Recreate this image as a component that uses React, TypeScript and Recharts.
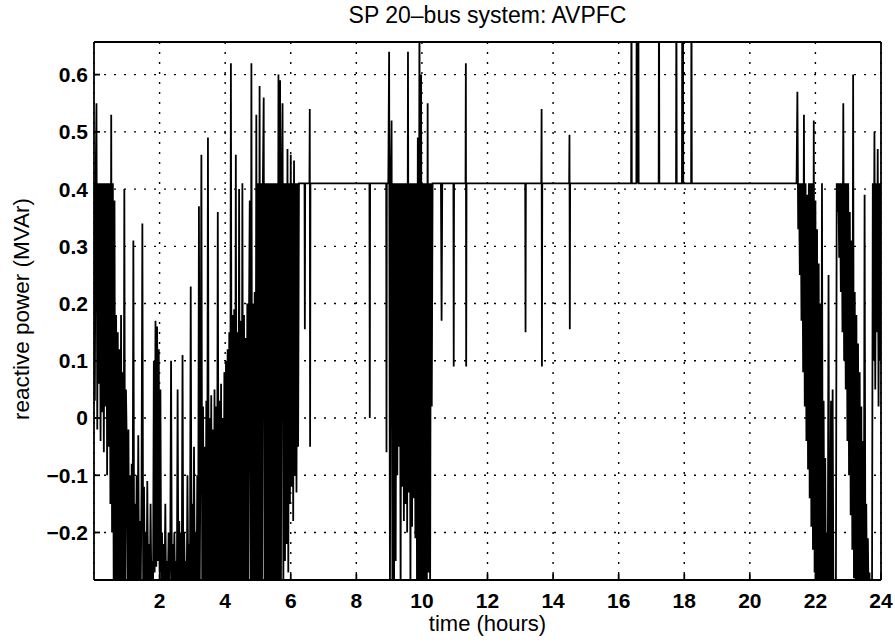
import React from 'react';
import { LineChart, Line, XAxis, YAxis, CartesianGrid, Label } from 'recharts';

const FONT = '"Liberation Sans", Arial, Helvetica, sans-serif';

const titleText = 'SP 20\u2013bus system: AVPFC';
const xLabelText = 'time (hours)';
const yLabelText = 'reactive power (MVAr)';

const xTicks = [2, 4, 6, 8, 10, 12, 14, 16, 18, 20, 22, 24];
const yTicks = [-0.2, -0.1, 0, 0.1, 0.2, 0.3, 0.4, 0.5, 0.6];
const xDomain = [0, 24];
const yDomain = [-0.283, 0.657];

// sampling interval of the dense (oscillating) periods, hours
const sampleStep = 0.025;

// 0.000 h - 6.225 h
const morningStart = 0;
const morningQ = [
  0.41, 0.03, 0.41, 0.55, -0.02, 0.41, 0.06, 0.41, -0.04, 0.41,
  0.01, 0.41, -0.06, 0.41, 0.02, 0.41, -0.1, 0.41, -0.05, 0.41,
  -0.15, 0.53, -0.2, 0.41, -0.3, 0.38, -0.32, 0.18, -0.3, 0.15,
  -0.32, 0.12, -0.3, 0.18, -0.32, 0.08, -0.3, 0.4, -0.32, 0.05,
  -0.05, -0.3, -0.02, -0.32, -0.1, -0.3, -0.08, -0.32, 0.31, -0.3,
  -0.15, -0.32, -0.1, -0.3, -0.03, -0.32, -0.18, -0.3, -0.12, 0.34,
  -0.32, -0.12, -0.3, -0.2, -0.32, -0.11, -0.3, -0.22, -0.32, -0.15,
  -0.3, -0.25, -0.32, 0.1, -0.27, 0.17, -0.26, 0.16, -0.25, 0.12,
  -0.27, 0.05, -0.3, -0.2, -0.32, -0.22, -0.3, -0.15, -0.32, -0.25,
  -0.3, -0.2, -0.32, -0.24, 0.1, -0.3, -0.22, -0.32, -0.2, -0.3,
  -0.25, -0.32, 0.05, -0.3, -0.18, -0.32, -0.2, -0.3, 0.11, -0.32,
  -0.2, -0.3, -0.25, -0.32, -0.1, -0.3, -0.22, -0.32, 0.23, -0.3,
  -0.15, -0.32, -0.05, -0.3, -0.2, -0.32, -0.1, -0.3, 0.37, -0.3,
  0.0, 0.46, -0.3, 0.02, -0.32, -0.05, -0.3, 0.03, -0.3, 0.49,
  -0.3, 0.0, -0.32, 0.04, -0.3, -0.02, -0.32, 0.05, -0.3, 0.02,
  -0.32, 0.36, -0.3, 0.03, -0.32, 0.06, -0.3, 0.0, -0.32, 0.08,
  -0.3, 0.1, -0.32, 0.12, -0.3, 0.15, -0.32, 0.62, -0.3, 0.18,
  -0.32, 0.19, -0.3, 0.46, -0.32, 0.15, -0.3, 0.4, -0.32, 0.17,
  -0.3, 0.41, -0.32, 0.18, -0.3, 0.14, -0.32, 0.2, -0.3, 0.16,
  0.38, -0.32, 0.62, -0.3, 0.2, -0.32, 0.22, -0.3, 0.53, -0.32,
  0.41, -0.3, 0.58, -0.32, 0.41, -0.3, 0.41, 0.56, -0.32, 0.41,
  -0.3, 0.41, -0.32, 0.41, -0.3, 0.41, -0.32, 0.41, -0.3, 0.41,
  -0.32, 0.41, -0.3, 0.41, -0.32, 0.6, -0.3, 0.59, -0.32, 0.41,
  0.55, -0.3, 0.41, -0.25, 0.41, -0.22, 0.47, -0.27, 0.41, -0.15,
  0.46, -0.12, 0.41, -0.18, 0.45, -0.1, 0.41, -0.13, 0.41, -0.05,
];

// 9.000 h - 10.325 h
const forenoonStart = 9.0;
const forenoonQ = [
  0.64, -0.32, 0.41, 0.52, -0.3, 0.41, -0.32, 0.41, -0.25, 0.41,
  -0.1, 0.41, -0.05, 0.41, -0.32, 0.41, -0.12, 0.41, -0.18, 0.41,
  -0.15, 0.41, -0.2, 0.64, -0.13, 0.41, -0.32, 0.41, -0.19, 0.41,
  -0.14, 0.41, -0.21, 0.41, -0.3, 0.49, -0.32, 0.75, -0.3, 0.6,
  -0.32, 0.41, -0.3, 0.41, -0.32, 0.41, -0.3, 0.55, -0.27, 0.41,
  -0.3, 0.41, 0.02, 0.41,
];

// 21.450 h - 24.000 h
const eveningStart = 21.45;
const eveningQ = [
  0.57, 0.33, 0.41, 0.25, 0.41, 0.17, 0.41, 0.08, 0.53, 0.02,
  0.41, -0.04, 0.39, -0.09, 0.41, -0.14, 0.41, -0.19, 0.41, -0.23,
  0.52, -0.27, 0.38, -0.31, 0.33, -0.34, 0.27, -0.34, 0.2, -0.34,
  0.41, -0.34, 0.03, -0.34, -0.07, -0.34, -0.2, -0.34, 0.25, -0.34,
  -0.32, 0.03, -0.34, 0.05, -0.34, -0.33, -0.34, -0.3,
  0.41, 0.36, 0.41, 0.28, 0.41, 0.22, 0.41, 0.15, 0.55, 0.1,
  0.41, 0.05, 0.41, -0.04, 0.41, -0.1, 0.36, -0.17, 0.31, -0.23,
  0.6, -0.28, 0.22, -0.32, 0.18, -0.34, 0.13, -0.34, 0.08, -0.34,
  0.02, -0.34, -0.04, -0.34, 0.39, -0.34, -0.15, -0.34, -0.21, -0.34,
  -0.27, -0.34, -0.33, -0.34,
  0.41, 0.1, 0.5, 0.05, 0.41, 0.15, 0.47, 0.02, 0.41, 0.1, 0.41,
];

// plateau periods (limit value 0.41 MVAr) with isolated excursions
const plateauT = [
  6.25, 6.42, 6.43, 6.44, 6.57, 6.58, 6.59, 6.6,
  8.4, 8.41, 8.42, 8.91, 8.92, 8.93, 8.975,
  10.58, 10.6, 10.62, 10.96, 10.97, 10.98,
  11.33, 11.34, 11.35, 11.36,
  13.15, 13.16, 13.17, 13.64, 13.65, 13.66, 13.67,
  14.49, 14.5, 14.51, 14.52,
  16.38, 16.39, 16.4, 16.54, 16.55, 16.56, 16.57, 16.58, 16.6, 16.61,
  17.22, 17.23, 17.24, 17.75, 17.76, 17.77,
  17.93, 17.94, 17.95, 17.96, 17.97,
  18.21, 18.22, 18.23, 21.425,
];
const plateauQ = [
  0.41, 0.41, 0.155, 0.41, 0.41, 0.54, -0.05, 0.41,
  0.41, 0.0, 0.41, 0.41, -0.06, 0.41, 0.41,
  0.41, 0.17, 0.41, 0.41, 0.09, 0.41,
  0.41, 0.62, 0.09, 0.41,
  0.41, 0.15, 0.41, 0.41, 0.54, 0.09, 0.41,
  0.41, 0.495, 0.155, 0.41,
  0.41, 0.8, 0.41, 0.41, 0.8, 0.41, 0.8, 0.41, 0.8, 0.41,
  0.41, 0.8, 0.41, 0.41, 0.8, 0.41,
  0.41, 0.8, 0.41, 0.8, 0.41,
  0.41, 0.8, 0.41, 0.41,
];

type Pt = { t: number; q: number };
const rows: Pt[] = [];
const addDense = (start: number, values: number[]) => {
  values.forEach((q, i) => rows.push({ t: +(start + i * sampleStep).toFixed(4), q }));
};
addDense(morningStart, morningQ);
addDense(forenoonStart, forenoonQ);
addDense(eveningStart, eveningQ);
plateauT.forEach((t, i) => rows.push({ t, q: plateauQ[i] }));
rows.sort((a, b) => a.t - b.t);

const fmtY = (v: number) => {
  if (Math.abs(v) < 1e-9) return '0';
  return (v < 0 ? '\u2212' : '') + Math.abs(v).toFixed(1);
};

const axisStroke = { stroke: '#000', strokeWidth: 1.8 };
const tickStyle = { fill: '#000', fontSize: 21, fontWeight: 700, fontFamily: FONT };

export default function App() {
  return (
    <div style={{ position: 'absolute', left: 0, top: 0, width: 895, height: 643, background: '#fff' }}>
      <LineChart
        width={895}
        height={643}
        data={rows}
        margin={{ top: 41, right: 13, bottom: 0, left: 0 }}
      >
        <CartesianGrid stroke="#000" strokeWidth={1.4} strokeDasharray="2 8" />
        <XAxis
          dataKey="t"
          type="number"
          domain={xDomain}
          ticks={xTicks}
          interval={0}
          allowDataOverflow
          height={63}
          tickSize={-6}
          tickMargin={19}
          axisLine={axisStroke}
          tickLine={axisStroke}
          tick={tickStyle}
        >
          <Label value={xLabelText} position="insideTop" offset={35} fill="#000" fontSize={22} fontFamily={FONT} />
        </XAxis>
        <XAxis
          xAxisId="top"
          orientation="top"
          dataKey="t"
          type="number"
          domain={xDomain}
          ticks={xTicks}
          interval={0}
          allowDataOverflow
          height={1}
          tickSize={-6}
          tick={false}
          axisLine={axisStroke}
          tickLine={axisStroke}
        >
          <Label value={titleText} position="top" offset={18} fill="#000" fontSize={23} fontFamily={FONT} />
        </XAxis>
        <YAxis
          type="number"
          domain={yDomain}
          ticks={yTicks}
          interval={0}
          allowDataOverflow
          width={94}
          tickSize={-6}
          tickMargin={12}
          tickFormatter={fmtY}
          axisLine={axisStroke}
          tickLine={axisStroke}
          tick={tickStyle}
        >
          <Label value={yLabelText} position="center" angle={-90} dx={-26} dy={-2} fill="#000" fontSize={22.5} fontFamily={FONT} />
        </YAxis>
        <YAxis
          yAxisId="right"
          orientation="right"
          type="number"
          domain={yDomain}
          ticks={yTicks}
          interval={0}
          allowDataOverflow
          width={1}
          tickSize={-6}
          tick={false}
          axisLine={axisStroke}
          tickLine={axisStroke}
        />
        <Line
          dataKey="q"
          type="linear"
          stroke="#000"
          strokeWidth={1.8}
          dot={false}
          activeDot={false}
          isAnimationActive={false}
        />
      </LineChart>
    </div>
  );
}
